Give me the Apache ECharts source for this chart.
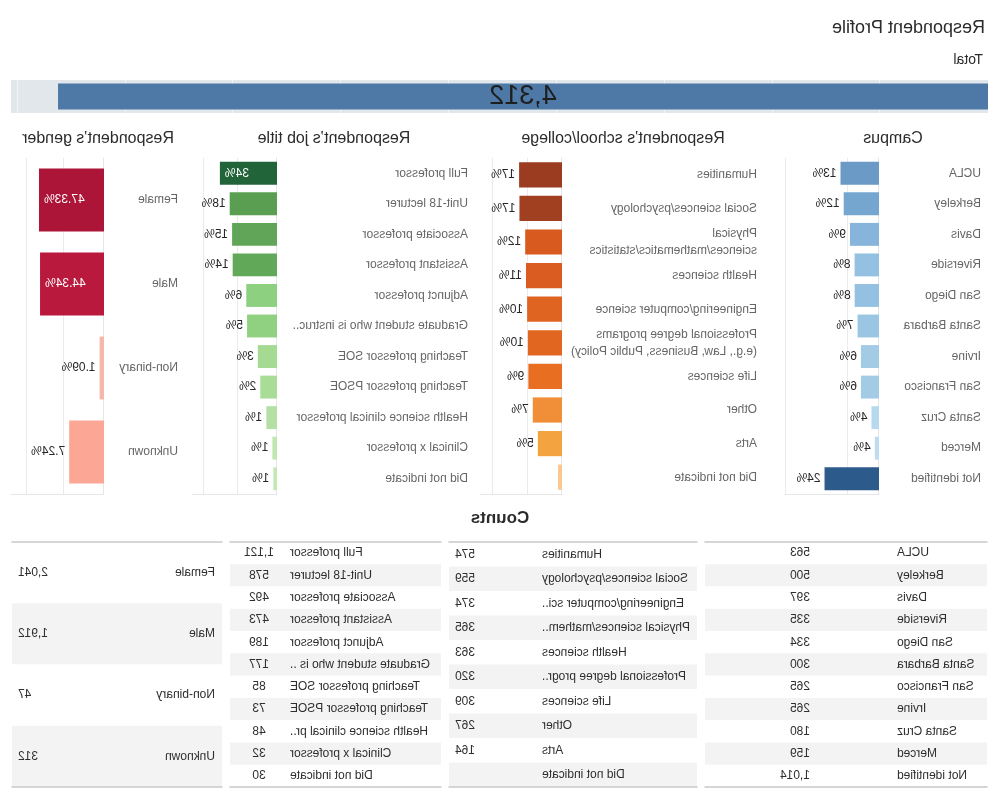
<!DOCTYPE html>
<html>
<head>
<meta charset="utf-8">
<script src="https://cdn.jsdelivr.net/npm/echarts@6/dist/echarts.min.js"></script>
<style>
html,body{margin:0;padding:0;background:#fff;}
#wrap{width:1000px;height:800px;transform:scaleX(-1);transform-origin:50% 50%;}
#chart{width:1000px;height:800px;}
</style>
</head>
<body>
<div id="wrap"><div id="chart"></div></div>
<script>
// ---------------- DATA ----------------
const totalCount = 4312;

const campusNames = ['UCLA','Berkeley','Davis','Riverside','San Diego','Santa Barbara','Irvine','San Francisco','Santa Cruz','Merced','Not identified'];
const campusPct = [13.06, 11.60, 9.21, 7.77, 7.75, 6.96, 6.15, 6.15, 4.17, 3.69, 23.52];
const campusLabels = ['13%','12%','9%','8%','8%','7%','6%','6%','4%','4%','24%'];

const schoolNames = ['Humanities','Social sciences/psychology','Physical\nsciences/mathematics/statistics','Health sciences','Engineering/computer science','Professional degree programs\n(e.g., Law, Business, Public Policy)','Life sciences','Other','Arts','Did not indicate'];
const schoolPct = [17.4, 17.0, 11.6, 11.0, 10.2, 9.7, 9.4, 7.0, 5.0, 1.3];
const schoolLabels = ['17%','17%','12%','11%','10%','10%','9%','7%','5%',''];

const jobNames = ['Full professor','Unit-18 lecturer','Associate professor','Assistant professor','Adjunct professor','Graduate student who is instructor of record','Teaching professor SOE','Teaching professor PSOE','Health science clinical professor','Clinical x professor','Did not indicate'];
const jobPct = [34.0, 17.5, 14.9, 14.3, 5.7, 5.4, 2.6, 2.2, 1.46, 0.97, 0.91];
const jobLabels = ['34%','18%','15%','14%','6%','5%','3%','2%','1%','1%','1%'];

const genderNames = ['Female','Male','Non-binary','Unknown'];
const genderPct = [47.33, 44.34, 1.09, 7.24];
const genderLabels = ['47.33%','44.34%','1.09%','7.24%'];

const campusTableNames = ['UCLA','Berkeley','Davis','Riverside','San Diego','Santa Barbara','San Francisco','Irvine','Santa Cruz','Merced','Not identified'];
const campusTableCounts = [563, 500, 397, 335, 334, 300, 265, 265, 180, 159, 1014];

const schoolTableNames = ['Humanities','Social sciences/psychology','Engineering/computer science','Physical sciences/mathematics/statistics','Health sciences','Professional degree programs (e.g., Law, Business, Public Policy)','Life sciences','Other','Arts','Did not indicate'];
const schoolTableCounts = [574, 559, 374, 365, 363, 320, 309, 267, 164, null];

const jobTableNames = ['Full professor','Unit-18 lecturer','Associate professor','Assistant professor','Adjunct professor','Graduate student who is instructor of record','Teaching professor SOE','Teaching professor PSOE','Health science clinical professor','Clinical x professor','Did not indicate'];
const jobTableCounts = [1121, 578, 492, 473, 189, 177, 85, 73, 48, 32, 30];

const genderTableNames = ['Female','Male','Non-binary','Unknown'];
const genderTableCounts = [2041, 1912, 47, 312];

// ---------------- STYLES ----------------
const FONT = 'Arial, "Liberation Sans", sans-serif';
const campusColors = ['#6a9ac5','#74a6d0','#86b4da','#94c0e1','#94c0e1','#9ac5e3','#a3cbe6','#a3cbe6','#b7d9ee','#bedcf0','#2c5a8b'];
const schoolColors = ['#9b3b20','#a14021','#d85a1f','#da5c20','#df6321','#e16721','#e86f22','#f08f37','#f3a340','#fbc78c'];
const jobColors = ['#22643a','#5a9f51','#61a658','#62a859','#8dd07f','#90d181','#a5da93','#a9dc97','#b4e1a3','#c1e6b1','#c4e8b4'];
const genderColors = ['#ac1438','#b8193d','#f8b7ad','#fca696'];

const fmt = v => (v == null ? '' : v.toLocaleString('en-US'));

const measureCtx = document.createElement('canvas').getContext('2d');
measureCtx.font = '12px ' + FONT;

function barRenderer(labels, colors) {
  return function (params, api) {
    const cs = params.coordSys;
    const idx = api.value(1);
    const end = api.coord([api.value(0), idx]);
    const band = cs.height / labels.length;
    const h = band * 0.75;
    const text = labels[idx];
    const room = cs.x + cs.width - end[0];
    const inside = text && room < measureCtx.measureText(text).width + 8;
    return {
      type: 'rect',
      shape: { x: cs.x, y: end[1] - h / 2, width: end[0] - cs.x, height: h },
      style: { fill: colors[idx] },
      textContent: { style: { text: text, fill: inside ? '#ffffff' : '#262626', fontSize: 12, fontFamily: FONT } },
      textConfig: { position: inside ? 'insideRight' : 'right', distance: inside ? 5 : 4 }
    };
  };
}

const panels = [
  { names: campusNames, pct: campusPct, labels: campusLabels, colors: campusColors, left: 121, width: 94, labelX: 19, min: 3.16, max: 101 },
  { names: schoolNames, pct: schoolPct, labels: schoolLabels, colors: schoolColors, left: 438, width: 82, labelX: 243, min: 1.0, max: 235 },
  { names: jobNames, pct: jobPct, labels: jobLabels, colors: jobColors, left: 723, width: 85, labelX: 532, min: 0.71, max: 225, labelWidth: 177 },
  { names: genderNames, pct: genderPct, labels: genderLabels, colors: genderColors, left: 896, width: 93, labelX: 822, min: 0.83, max: 270 }
];

const tables = [
  { names: campusTableNames, counts: campusTableCounts, left: 13, width: 282, nameX: 103, nameAlign: 'right', countX: 190, countAlign: 'left', nameWidth: 150 },
  { names: schoolTableNames, counts: schoolTableCounts, left: 303, width: 248, nameX: 458, nameAlign: 'right', countX: 525, countAlign: 'left', nameWidth: 150 },
  { names: jobTableNames, counts: jobTableCounts, left: 559, width: 211, nameX: 710, nameAlign: 'right', countX: 741, countAlign: 'center', nameWidth: 143 },
  { names: genderTableNames, counts: genderTableCounts, left: 778, width: 210, nameX: 785, nameAlign: 'left', countX: 982, countAlign: 'right', nameWidth: 150 }
];

const grid = [], xAxis = [], yAxis = [], series = [];

// Total bar
grid.push({ left: 12, top: 80, width: 977, height: 33, show: true, backgroundColor: '#e1e7ea', borderWidth: 0 });
xAxis.push({ type: 'value', gridIndex: 0, min: 0, max: 4530, interval: 500,
  axisLabel: { show: false }, axisTick: { show: false }, axisLine: { show: false },
  splitLine: { show: true, showMinLine: false, showMaxLine: false, lineStyle: { color: '#f2f5f6', width: 1 } } });
yAxis.push({ type: 'category', gridIndex: 0, data: ['Total'], show: false });
series.push({ type: 'bar', xAxisIndex: 0, yAxisIndex: 0, data: [totalCount], barWidth: 26,
  itemStyle: { color: '#4e79a7' }, silent: true,
  label: { show: true, position: 'inside', formatter: p => fmt(p.value), fontSize: 27, color: '#1e1e1e', fontFamily: FONT } });

// Panels
panels.forEach(p => {
  const gi = grid.length;
  grid.push({ left: p.left, top: 158, width: p.width, height: 336 });
  xAxis.push({ type: 'log', logBase: 10, gridIndex: gi, min: p.min, max: p.max,
    axisLabel: { show: false }, axisTick: { show: false }, splitLine: { show: false },
    axisLine: { show: true, lineStyle: { color: '#e6e6e6' } } });
  const lab = { align: 'left', margin: p.left - p.labelX, color: '#666666', fontSize: 12, fontFamily: FONT, lineHeight: 17 };
  if (p.labelWidth) { lab.width = p.labelWidth; lab.overflow = 'truncate'; lab.ellipsis = '..'; }
  yAxis.push({ type: 'category', gridIndex: gi, data: p.names, inverse: true,
    axisTick: { show: false }, axisLine: { show: true, lineStyle: { color: '#e6e6e6' } }, axisLabel: lab });
  series.push({ type: 'custom', xAxisIndex: gi, yAxisIndex: gi, z: 10,
    data: p.pct.map((v, i) => [v, i]), encode: { x: 0, y: 1 },
    renderItem: barRenderer(p.labels, p.colors), silent: true,
    markLine: { silent: true, symbol: ['none', 'none'], label: { show: false },
      lineStyle: { color: '#ebebeb', type: 'solid', width: 1 },
      data: [{ xAxis: 10 }, { xAxis: 100 }] } });
});

// Tables
tables.forEach(t => {
  const gi = grid.length;
  grid.push({ left: t.left, top: 542, width: t.width, height: 245 });
  const xa = { type: 'value', gridIndex: gi, min: 0, max: 1, axisLabel: { show: false }, axisTick: { show: false }, splitLine: { show: false },
    axisLine: { show: true, onZero: false, lineStyle: { color: '#c9c9c9', width: 1.5 } } };
  xAxis.push(Object.assign({}, xa, { position: 'top' }));
  xAxis.push(Object.assign({}, xa, { position: 'bottom' }));
  yAxis.push({ type: 'category', gridIndex: gi, data: t.names, inverse: true, position: 'left',
    offset: -(t.nameX - t.left), axisLine: { show: false }, axisTick: { show: false },
    splitArea: { show: true, areaStyle: { color: ['#ffffff', '#f3f3f3'] } },
    axisLabel: { align: t.nameAlign, margin: 0, color: '#2e2e2e', fontSize: 12, fontFamily: FONT,
      width: t.nameWidth, overflow: 'truncate', ellipsis: '..' } });
  yAxis.push({ type: 'category', gridIndex: gi, data: t.counts.map(fmt), inverse: true, position: 'right',
    offset: -(t.left + t.width - t.countX), axisLine: { show: false }, axisTick: { show: false },
    axisLabel: { align: t.countAlign, margin: 0, color: '#2e2e2e', fontSize: 12, fontFamily: FONT } });
});

const mkTitle = (text, left, top, size, align, weight) => ({
  text, left, top, padding: 0, textAlign: align,
  textStyle: { color: '#2b2b2b', fontWeight: weight || 'normal', fontSize: size, fontFamily: FONT }
});

const option = {
  animation: false,
  backgroundColor: '#ffffff',
  title: [
    mkTitle('Respondent Profile', 15, 19, 18, 'left'),
    mkTitle('Total', 17, 53, 14, 'left'),
    mkTitle('Campus', 107, 131, 16, 'center'),
    mkTitle('Respondent\u2019s school/college', 377, 131, 16, 'center'),
    mkTitle('Respondent\u2019s job title', 666, 131, 16, 'center'),
    mkTitle('Respondent\u2019s gender', 902, 131, 16, 'center'),
    mkTitle('Counts', 500, 510, 17, 'center', 'bold')
  ],
  grid, xAxis, yAxis, series
};

const chart = echarts.init(document.getElementById('chart'), null, { renderer: 'canvas' });
chart.setOption(option);
</script>
</body>
</html>
